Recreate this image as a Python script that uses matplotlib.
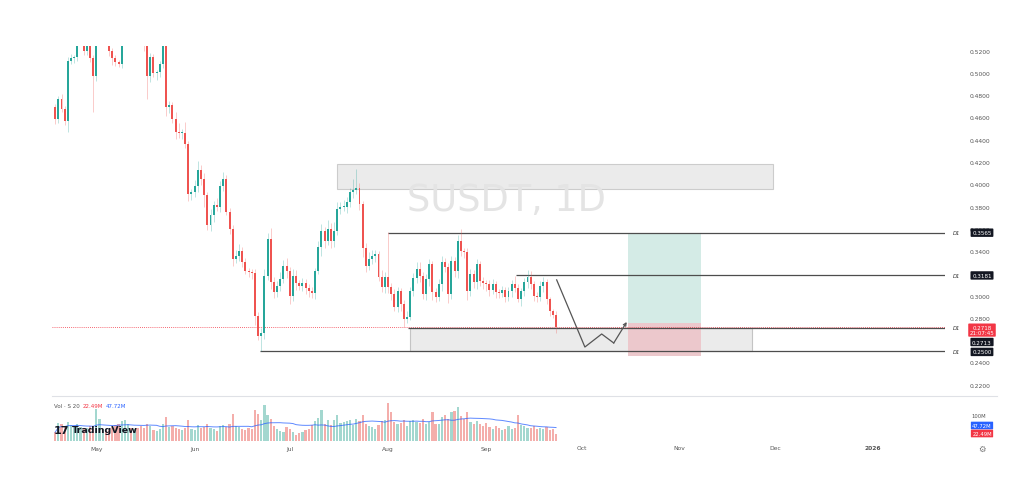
import numpy as np
import pandas as pd
import matplotlib
matplotlib.use('Agg')
import matplotlib.pyplot as plt
from matplotlib.patches import Rectangle
from matplotlib.lines import Line2D
import matplotlib.transforms as mtransforms

# daily candles, index 0 = Apr 18, last = Sep 23
first_open = 0.469
closes = [
    0.459, 0.477, 0.468, 0.457, 0.511, 0.513, 0.514, 0.530, 0.542, 0.520,
    0.524, 0.513, 0.497, 0.535, 0.545, 0.552, 0.548, 0.520, 0.513, 0.510,
    0.508, 0.535, 0.552, 0.561, 0.549, 0.566, 0.558, 0.547, 0.524, 0.497,
    0.514, 0.500, 0.501, 0.508, 0.535, 0.469, 0.471, 0.459, 0.447, 0.446,
    0.446, 0.436, 0.391, 0.393, 0.398, 0.413, 0.405, 0.390, 0.363, 0.372,
    0.381, 0.380, 0.398, 0.405, 0.375, 0.360, 0.333, 0.336, 0.340, 0.330,
    0.322, 0.321, 0.320, 0.282, 0.264, 0.266, 0.318, 0.351, 0.312, 0.303,
    0.309, 0.315, 0.327, 0.322, 0.300, 0.318, 0.311, 0.309, 0.311, 0.307,
    0.304, 0.302, 0.322, 0.344, 0.358, 0.349, 0.360, 0.349, 0.358, 0.378,
    0.380, 0.380, 0.384, 0.393, 0.395, 0.397, 0.382, 0.343, 0.327, 0.333,
    0.336, 0.337, 0.317, 0.308, 0.317, 0.308, 0.301, 0.290, 0.304, 0.292,
    0.279, 0.281, 0.304, 0.316, 0.324, 0.318, 0.301, 0.315, 0.328, 0.303,
    0.299, 0.310, 0.330, 0.326, 0.301, 0.331, 0.322, 0.349, 0.340, 0.339,
    0.304, 0.319, 0.312, 0.328, 0.313, 0.311, 0.310, 0.305, 0.310, 0.303,
    0.302, 0.305, 0.299, 0.304, 0.310, 0.307, 0.297, 0.304, 0.312, 0.317,
    0.310, 0.300, 0.299, 0.309, 0.312, 0.297, 0.286, 0.283, 0.2718,
]
# wick lengths in thousandths
upper_wick = [
    3, 2, 4, 2, 3, 4, 2, 8, 6, 3,
    4, 5, 3, 6, 5, 4, 6, 3, 2, 3,
    2, 7, 5, 6, 4, 5, 6, 3, 2, 3,
    4, 3, 2, 3, 6, 5, 4, 3, 6, 8,
    4, 10, 3, 3, 6, 8, 4, 5, 3, 6,
    4, 7, 5, 6, 3, 4, 3, 5, 6, 4,
    4, 3, 3, 4, 3, 5, 6, 5, 10, 5,
    4, 6, 5, 7, 4, 6, 5, 3, 5, 4,
    3, 4, 3, 5, 6, 4, 8, 5, 8, 6,
    4, 6, 5, 4, 10, 17, 4, 3, 4, 6,
    5, 4, 3, 6, 4, 40, 3, 5, 4, 3,
    4, 5, 4, 4, 6, 6, 3, 4, 5, 3,
    4, 5, 6, 4, 3, 5, 4, 5, 11, 3,
    4, 5, 4, 5, 3, 4, 3, 4, 5, 3,
    3, 4, 3, 4, 4, 8, 3, 3, 4, 6,
    5, 3, 3, 4, 5, 3, 2, 2, 3,
]
lower_wick = [
    5, 4, 3, 4, 10, 3, 4, 3, 5, 4,
    4, 3, 32, 4, 6, 5, 4, 5, 6, 4,
    3, 4, 5, 4, 6, 5, 4, 5, 4, 20,
    5, 4, 6, 5, 4, 8, 5, 4, 6, 4,
    5, 3, 6, 5, 4, 5, 6, 10, 4, 5,
    6, 4, 5, 4, 3, 5, 6, 4, 5, 4,
    3, 4, 5, 8, 4, 14, 5, 4, 6, 5,
    4, 5, 4, 6, 8, 5, 6, 4, 5, 6,
    5, 4, 5, 3, 8, 6, 4, 6, 5, 4,
    5, 4, 6, 4, 5, 4, 5, 8, 6, 4,
    5, 6, 4, 5, 6, 6, 5, 4, 5, 6,
    7, 4, 3, 4, 5, 6, 4, 5, 6, 7,
    5, 4, 6, 5, 8, 4, 5, 6, 4, 5,
    8, 4, 5, 6, 4, 5, 6, 5, 4, 5,
    4, 3, 5, 4, 5, 4, 3, 6, 4, 5,
    4, 5, 5, 4, 6, 5, 4, 3, 5,
]
# volume in millions
volumes = [
    30, 62, 58, 48, 66, 55, 52, 60, 48, 42,
    45, 50, 40, 112, 78, 42, 38, 36, 48, 55,
    60, 70, 72, 58, 45, 40, 46, 52, 44, 60,
    52, 38, 35, 42, 58, 85, 48, 52, 46, 40,
    38, 44, 72, 42, 38, 55, 45, 48, 60, 44,
    40, 35, 50, 56, 48, 58, 95, 52, 48, 42,
    38, 44, 40, 108, 95, 72, 128, 92, 78, 50,
    40, 35, 32, 48, 40, 30, 18, 25, 30, 36,
    40, 55, 70, 80, 110, 60, 72, 56, 72, 90,
    62, 66, 70, 72, 55, 78, 70, 90, 60, 50,
    48, 40, 55, 68, 72, 135, 100, 66, 58, 62,
    72, 50, 70, 72, 66, 62, 76, 58, 66, 100,
    60, 58, 82, 90, 76, 100, 104, 120, 88, 78,
    102, 66, 60, 70, 58, 52, 62, 48, 40, 52,
    44, 38, 42, 50, 40, 44, 92, 56, 50, 44,
    44, 50, 40, 46, 42, 48, 38, 40, 22.49,
]

month_pos = [13, 44, 74, 105, 136, 166, 197, 227, 258]
month_labels = ['May', 'Jun', 'Jul', 'Aug', 'Sep', 'Oct', 'Nov', 'Dec', '2026']
price_ticks = [0.22, 0.24, 0.28, 0.30, 0.34, 0.36, 0.38, 0.40, 0.42, 0.44, 0.46, 0.48, 0.50, 0.52]

# drawings (x in day index, y in price)
levels = [0.3565, 0.3181, 0.2713, 0.2500]
level_start = [105, 145.3, 111.3, 64.6]
last_price = 0.2718
supply_box = (88.9, 226.4, 0.3956, 0.4180)
demand_box = (111.9, 219.7, 0.2500, 0.2708)
long_x = (180.6, 203.7)
long_target, long_entry, long_stop = 0.3565, 0.2755, 0.2453
path_x = [158.2, 167.1, 172.4, 176.2, 180.3]
path_y = [0.3141, 0.2538, 0.2655, 0.2574, 0.2763]

green = '#26a69a'
red = '#ef5350'

opens = [first_open] + closes[:-1]
highs = [max(o, c) + w / 1000 for o, c, w in zip(opens, closes, upper_wick)]
lows = [min(o, c) - w / 1000 for o, c, w in zip(opens, closes, lower_wick)]
idx = np.arange(len(closes))
up = np.array(closes) >= np.array(opens)
cols = np.where(up, green, red)
vol_ma = pd.Series(volumes).rolling(20, min_periods=1).mean()

W, H = 1024, 489
fx = lambda px: px / W
fy = lambda py: 1 - py / H

fig = plt.figure(figsize=(10.24, 4.89), dpi=100, facecolor='white')
ax = fig.add_axes([fx(52), fy(397), fx(945) - fx(52), fy(47) - fy(397)])
vax = fig.add_axes([fx(52), fy(441.5), fx(945) - fx(52), fy(398) - fy(441.5)])
xmin, xmax = -1.0, 280.7

for a in (ax, vax):
    a.set_xlim(xmin, xmax)
    for s in a.spines.values():
        s.set_visible(False)
    a.set_facecolor('white')

ax.set_ylim(0.2098, 0.5242)
ax.set_xticks([])
ax.yaxis.tick_right()
ax.set_yticks(price_ticks)
ax.yaxis.set_major_formatter(plt.FuncFormatter(lambda v, p: f'{v:.4f}'))
ax.tick_params(axis='y', length=0, pad=18, labelsize=4.3, labelcolor='#555555')

# watermark
ax.text(142.5, 0.3862, 'SUSDT, 1D', fontsize=26.5, color='#e4e4e4',
        ha='center', va='center', zorder=1.1)

# boxes
x0, x1, y0, y1 = supply_box
ax.add_patch(Rectangle((x0, y0), x1 - x0, y1 - y0, fc='#ebebeb', ec='#cccccc', lw=0.8, zorder=1))
x0, x1, y0, y1 = demand_box
ax.add_patch(Rectangle((x0, y0), x1 - x0, y1 - y0, fc='#ebebeb', ec='#c4c4c4', lw=0.8, zorder=1))
ax.add_patch(Rectangle((long_x[0], long_entry), long_x[1] - long_x[0], long_target - long_entry,
                       fc='#d4ebe6', ec='none', zorder=1.2))
ax.add_patch(Rectangle((long_x[0], long_stop), long_x[1] - long_x[0], long_entry - long_stop,
                       fc='#ecc8cc', ec='none', zorder=1.2))

# horizontal levels
ax.axhline(last_price, color='#f23645', ls=(0, (1, 1.5)), lw=0.6, zorder=1.5)
for lv, st in zip(levels, level_start):
    ax.hlines(lv, st, xmax, color='#4d4d4d', lw=0.9, zorder=2)

# projection path
ax.plot(path_x[:-1], path_y[:-1], color='#555555', lw=0.9, zorder=2.5)
ax.annotate('', xy=(path_x[-1], path_y[-1]), xytext=(path_x[-2], path_y[-2]),
            arrowprops=dict(arrowstyle='->', color='#555555', lw=0.9,
                            shrinkA=0, shrinkB=0, mutation_scale=5), zorder=2.5)

# candles
ax.vlines(idx, lows, highs, colors=cols, lw=0.6, alpha=0.35, zorder=3)
body = np.maximum(np.abs(np.array(closes) - np.array(opens)), 0.0008)
ax.bar(idx, body, bottom=np.minimum(opens, closes), width=0.62, color=cols, lw=0, zorder=3.5)

# volume pane
vcols = np.where(up, '#a3d7cf', '#f4aeab')
vax.bar(idx, volumes, width=0.7, color=vcols, lw=0)
vax.plot(idx, vol_ma, color='#2962ff', lw=0.7, alpha=0.75)
vax.set_ylim(0, 155)
vax.set_yticks([])
vax.set_xticks(month_pos)
vax.set_xticklabels(month_labels)
vax.tick_params(axis='x', length=0, pad=3.6, labelsize=4.3, labelcolor='#555555')
vax.get_xticklabels()[-1].set_fontweight('bold')

# pane divider
fig.add_artist(Line2D([fx(52), fx(997)], [fy(397), fy(397)], color='#dfe1e6', lw=0.8))

# right side labels
tr = mtransforms.blended_transform_factory(fig.transFigure, ax.transData)
for lv in levels:
    fig.text(fx(957), lv, 'D1', transform=tr, fontsize=3.8, style='italic',
             color='#333333', ha='center', va='center')
tag = dict(boxstyle='round,pad=0.3,rounding_size=0.15', fc='#131722', ec='none')
for txt, ty in [('0.3565', 0.3565), ('0.3181', 0.3181), ('0.2713', 0.2583), ('0.2500', 0.2494)]:
    fig.text(fx(982), ty, txt, transform=tr, fontsize=4.1, color='white',
             ha='center', va='center', bbox=tag)
fig.text(fx(982), 0.2690, '0.2718\n21:07:45', transform=tr, fontsize=4.0, color='white',
         ha='center', va='center', linespacing=1.1,
         bbox=dict(boxstyle='round,pad=0.25,rounding_size=0.15', fc='#f23645', ec='none'))

# volume labels
fig.text(fx(54), fy(406), 'Vol · S 20', fontsize=4, color='#555555', va='center')
fig.text(fx(83), fy(406), '22.49M', fontsize=4, color='#f23645', va='center')
fig.text(fx(106), fy(406), '47.72M', fontsize=4, color='#2962ff', va='center')
fig.text(fx(979), fy(417), '100M', fontsize=3.8, color='#555555', ha='center', va='center')
fig.text(fx(982), fy(426.5), '47.72M', fontsize=3.8, color='white', ha='center', va='center',
         bbox=dict(boxstyle='round,pad=0.25,rounding_size=0.1', fc='#2962ff', ec='none'))
fig.text(fx(982), fy(434.5), '22.49M', fontsize=3.8, color='white', ha='center', va='center',
         bbox=dict(boxstyle='round,pad=0.25,rounding_size=0.1', fc='#f23645', ec='none'))
fig.text(fx(982), fy(449), '⚙', fontsize=6, color='#777777', ha='center', va='center')

# logo
fig.text(fx(54), fy(431), '17', fontsize=8, fontweight='heavy', color='#131722', va='center')
fig.text(fx(72), fy(431), 'TradingView', fontsize=6.8, fontweight='bold', color='#131722', va='center')

fig.savefig('out.png', dpi=100, facecolor='white')
